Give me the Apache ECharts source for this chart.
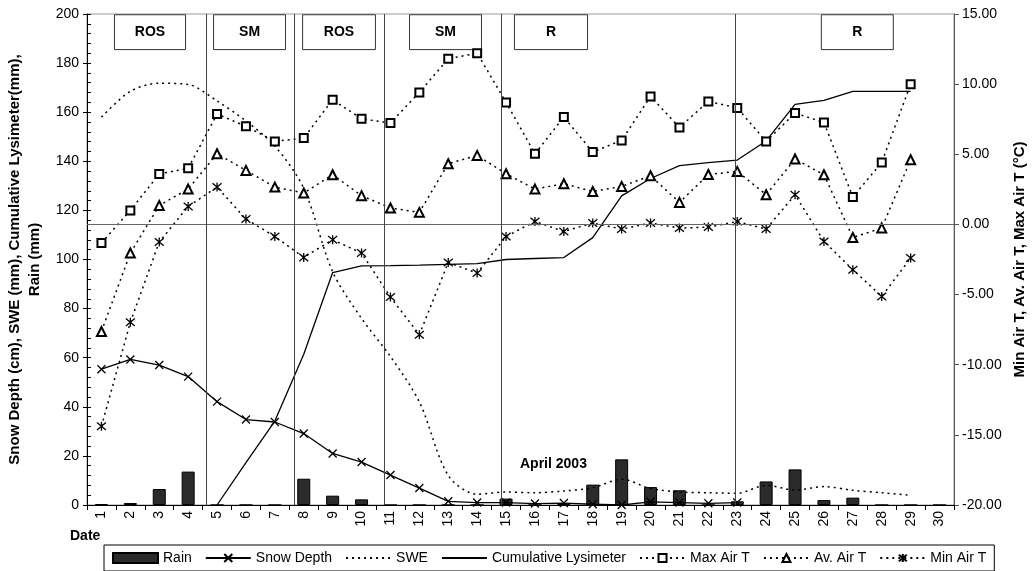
<!DOCTYPE html>
<html>
<head>
<meta charset="utf-8">
<script src="https://cdn.jsdelivr.net/npm/echarts@6/dist/echarts.min.js"></script>
<style>
  html, body { margin: 0; padding: 0; background: #fff; }
  #chart { width: 1032px; height: 571px; }
</style>
</head>
<body>
<div id="chart"></div>
<script>
// ---- data ----
const days = ['1','2','3','4','5','6','7','8','9','10','11','12','13','14','15','16','17','18','19','20','21','22','23','24','25','26','27','28','29','30'];
const rain = [0.4, 0.8, 6.5, 13.6, 0, 0, 0, 10.7, 3.8, 2.3, 0, 0, 0, 0, 2.6, 0, 0.6, 8.3, 18.6, 7.3, 6.0, 0, 1.5, 9.6, 14.5, 2, 3, 0, 0, 0];
const snowDepth = [55.3, 59.3, 57, 52.3, 42.1, 34.8, 33.8, 29.1, 21, 17.5, 12.2, 6.9, 1.5, 1, 1, 0.6, 0.8, 0.3, 0, 1.3, 1, 0.7, 1];
const swe = [158, 168.5, 171.8, 171.3, 164.6, 156.4, 146.2, 129, 95, 76, 60.5, 42, 12, 4.4, 5.3, 5, 5.7, 7, 10.5, 6.7, 5.3, 5, 4.8, 8, 6.1, 7.5, 6, 5, 4, null];
const lysimeter = [null, null, null, null, 0, 17.3, 34.2, 61.4, 94.7, 97.4, 97.5, 97.7, 98, 98.3, 100, 100.4, 100.8, 108.9, 125.9, 133, 138.2, 139.5, 140.5, 148.3, 163.2, 164.8, 168.5, 168.5, 168.5, null];
const maxAirT = [-1.33, 1.0, 3.6, 4.0, 7.87, 6.99, 5.92, 6.16, 8.89, 7.53, 7.23, 9.41, 11.81, 12.21, 8.7, 5.04, 7.65, 5.16, 5.99, 9.12, 6.91, 8.77, 8.3, 5.92, 7.94, 7.27, 1.95, 4.42, 10.0, null];
const avAirT = [-7.63, -2.04, 1.35, 2.52, 5.04, 3.85, 2.66, 2.24, 3.54, 2.05, 1.17, 0.86, 4.33, 4.92, 3.61, 2.52, 2.9, 2.35, 2.71, 3.47, 1.57, 3.56, 3.78, 2.12, 4.66, 3.54, -0.93, -0.26, 4.61, null];
const minAirT = [-14.39, -6.98, -1.25, 1.28, 2.66, 0.38, -0.86, -2.35, -1.09, -2.04, -5.18, -7.86, -2.71, -3.47, -0.86, 0.21, -0.5, 0.1, -0.33, 0.1, -0.26, -0.19, 0.21, -0.33, 2.12, -1.21, -3.23, -5.13, -2.4, null];

// event periods (day positions) and dividers
const phaseLabels = ['ROS', 'SM', 'ROS', 'SM', 'R', 'R'];
const phaseStart = [1.45, 4.88, 7.96, 11.66, 15.29, 25.91];
const phaseEnd = [3.91, 7.37, 10.48, 14.15, 17.82, 28.4];
const dividerDays = [4.63, 7.68, 10.8, 14.83, 22.94];

const leftTicks = { min: 0, max: 200, interval: 20 };
const rightTicks = { min: -20, max: 15, interval: 5 };

// ---- chart ----
const FONT = 'Liberation Sans, Arial, sans-serif';
const chart = echarts.init(document.getElementById('chart'), null, { renderer: 'canvas' });

const crossPath = 'path://M0,0L10,10M0,10L10,0';
const starPath = 'path://M0,0L10,10M0,10L10,0M5,-1L5,11';
const dotted = { type: [2, 4], width: 1.5, color: '#000' };
const hiddenSymbolStyle = { color: 'transparent', borderColor: 'transparent', borderWidth: 0 };

const boxData = phaseLabels.map((lab, i) => [
  { name: lab, xAxis: phaseStart[i], yAxis: 199.7 },
  { xAxis: phaseEnd[i], yAxis: 185.5 }
]);

const option = {
  animation: false,
  backgroundColor: '#fff',
  textStyle: { fontFamily: FONT },
  grid: { left: 87, right: 78, top: 14, bottom: 66, show: true, borderColor: '#999', borderWidth: 1, outerBoundsMode: 'none', containLabel: false },
  legend: {
    left: 104, top: 545,
    padding: [6, 8, 6, 8],
    borderColor: '#000', borderWidth: 1, backgroundColor: '#fff',
    itemWidth: 45, itemHeight: 10, itemGap: 13,
    textStyle: { fontSize: 14, color: '#000', fontFamily: FONT },
    data: [
      { name: 'Rain', icon: 'rect' },
      'Snow Depth', 'SWE', 'Cumulative Lysimeter', 'Max Air T', 'Av. Air T', 'Min Air T'
    ]
  },
  xAxis: [
    {
      type: 'category', data: days, boundaryGap: true,
      axisLine: { lineStyle: { color: '#000', width: 1 } },
      axisTick: { show: true, length: 5, lineStyle: { color: '#000' } },
      axisLabel: { rotate: 90, fontSize: 14, color: '#000', margin: 6, fontFamily: FONT },
      splitLine: { show: false }
    },
    { type: 'value', min: 0.5, max: 30.5, show: false }
  ],
  yAxis: [
    {
      type: 'value', min: leftTicks.min, max: leftTicks.max, interval: leftTicks.interval,
      name: 'Snow Depth (cm), SWE (mm), Cumulative Lysimeter(mm),\nRain (mm)',
      nameLocation: 'middle', nameGap: 42, nameRotate: 90,
      nameTextStyle: { fontSize: 15, fontWeight: 'bold', color: '#000', lineHeight: 20, fontFamily: FONT },
      axisLine: { show: true, lineStyle: { color: '#000' } },
      axisTick: { show: true, length: 4, lineStyle: { color: '#000' } },
      axisLabel: { fontSize: 14, color: '#000', margin: 8, fontFamily: FONT },
      splitLine: { show: false }
    },
    {
      type: 'value', position: 'right', min: rightTicks.min, max: rightTicks.max, interval: rightTicks.interval,
      name: 'Min Air T, Av. Air T, Max Air T (°C)',
      nameLocation: 'middle', nameGap: 56, nameRotate: 90,
      nameTextStyle: { fontSize: 15, fontWeight: 'bold', color: '#000', fontFamily: FONT },
      axisLine: { show: true, lineStyle: { color: '#555' } },
      axisTick: { show: true, length: 5, lineStyle: { color: '#555' } },
      axisLabel: { fontSize: 14, color: '#000', margin: 8, fontFamily: FONT, formatter: v => v.toFixed(2) },
      splitLine: { show: false }
    },
    {
      // overlay for inside minor ticks of the left axis
      type: 'value', position: 'left', min: leftTicks.min, max: leftTicks.max, interval: leftTicks.interval,
      axisLine: { show: false },
      axisTick: { show: true, inside: true, length: 4, lineStyle: { color: '#000' } },
      minorTick: { show: true, splitNumber: 5, length: 4, lineStyle: { color: '#000' } },
      axisLabel: { show: false },
      splitLine: { show: false }
    }
  ],
  graphic: [
    { type: 'text', left: 520, top: 457, style: { text: 'April 2003', font: 'bold 14px ' + FONT, fill: '#000' } },
    { type: 'text', left: 70, top: 529, style: { text: 'Date', font: 'bold 14px ' + FONT, fill: '#000' } }
  ],
  series: [
    {
      name: 'Rain', type: 'bar', data: rain, barWidth: 13,
      itemStyle: { color: '#2b2b2b', borderColor: '#000', borderWidth: 1 }, z: 1
    },
    {
      name: 'Snow Depth', type: 'line', data: snowDepth,
      symbol: crossPath, symbolSize: 8,
      itemStyle: { color: '#000', borderColor: '#000', borderWidth: 1.3 },
      lineStyle: { color: '#000', width: 1.3 }, z: 3
    },
    {
      name: 'SWE', type: 'line', data: swe, smooth: 0.3, symbol: 'circle', showSymbol: false,
      itemStyle: hiddenSymbolStyle, lineStyle: dotted, z: 3
    },
    {
      name: 'Cumulative Lysimeter', type: 'line', data: lysimeter, symbol: 'circle', showSymbol: false,
      itemStyle: hiddenSymbolStyle, lineStyle: { color: '#000', width: 1.3 }, z: 3
    },
    {
      name: 'Max Air T', type: 'line', yAxisIndex: 1, data: maxAirT,
      symbol: 'emptyRect', symbolSize: 8,
      itemStyle: { color: '#000', borderWidth: 1.3 }, lineStyle: dotted, z: 4
    },
    {
      name: 'Av. Air T', type: 'line', yAxisIndex: 1, data: avAirT,
      symbol: 'emptyTriangle', symbolSize: 9,
      itemStyle: { color: '#000', borderWidth: 1.3 }, lineStyle: dotted, z: 4
    },
    {
      name: 'Min Air T', type: 'line', yAxisIndex: 1, data: minAirT,
      symbol: starPath, symbolSize: 9,
      itemStyle: { color: '#000', borderColor: '#000', borderWidth: 1.3 }, lineStyle: dotted, z: 4
    },
    {
      name: 'zero', type: 'line', yAxisIndex: 1, data: [], silent: true, z: 2,
      markLine: {
        silent: true, symbol: 'none', label: { show: false },
        lineStyle: { color: '#666', type: 'solid', width: 1 },
        data: [{ yAxis: 0 }]
      }
    },
    {
      name: 'phases', type: 'line', xAxisIndex: 1, yAxisIndex: 0, data: [], silent: true, z: 2,
      markLine: {
        silent: true, symbol: 'none', label: { show: false },
        lineStyle: { color: '#444', type: 'solid', width: 1 },
        data: dividerDays.map(d => ({ xAxis: d }))
      },
      markArea: {
        silent: true,
        itemStyle: { color: '#fff', borderColor: '#333', borderWidth: 1 },
        label: { show: true, position: 'inside', fontSize: 14, fontWeight: 'bold', color: '#000', fontFamily: FONT },
        data: boxData
      }
    }
  ]
};
chart.setOption(option);
</script>
</body>
</html>
